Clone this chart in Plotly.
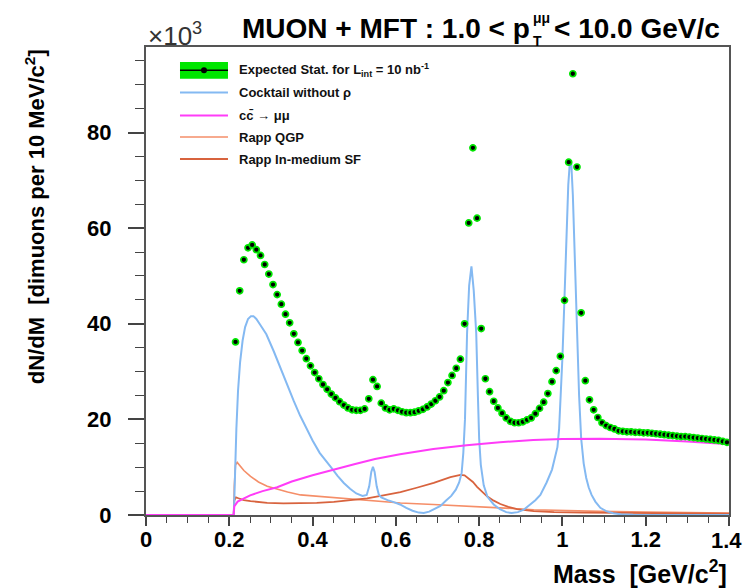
import plotly.graph_objects as go

# ---------------- data ----------------
mass_bins = [0.215, 0.225, 0.235, 0.245, 0.255, 0.265, 0.275, 0.285, 0.295, 0.305,
             0.315, 0.325, 0.335, 0.345, 0.355, 0.365, 0.375, 0.385, 0.395, 0.405,
             0.415, 0.425, 0.435, 0.445, 0.455, 0.465, 0.475, 0.485, 0.495, 0.505,
             0.515, 0.525, 0.535, 0.545, 0.555, 0.565, 0.575, 0.585, 0.595, 0.605,
             0.615, 0.625, 0.635, 0.645, 0.655, 0.665, 0.675, 0.685, 0.695, 0.705,
             0.715, 0.725, 0.735, 0.745, 0.755, 0.765, 0.775, 0.785, 0.795, 0.805,
             0.815, 0.825, 0.835, 0.845, 0.855, 0.865, 0.875, 0.885, 0.895, 0.905,
             0.915, 0.925, 0.935, 0.945, 0.955, 0.965, 0.975, 0.985, 0.995, 1.005,
             1.015, 1.025, 1.035, 1.045, 1.055, 1.065, 1.075, 1.085, 1.095, 1.105,
             1.115, 1.125, 1.135, 1.145, 1.155, 1.165, 1.175, 1.185, 1.195, 1.205,
             1.215, 1.225, 1.235, 1.245, 1.255, 1.265, 1.275, 1.285, 1.295, 1.305,
             1.315, 1.325, 1.335, 1.345, 1.355, 1.365, 1.375, 1.385, 1.395]
expected_counts = [36.2, 46.9, 53.4, 55.9, 56.5, 55.5, 54.3, 52.4, 50.4, 48.2,
                   46.1, 44.1, 42.0, 40.2, 37.9, 36.1, 34.4, 32.7, 31.2, 29.8,
                   28.5, 27.3, 26.3, 25.3, 24.5, 23.7, 23.0, 22.4, 22.0, 21.9,
                   21.9, 22.2, 24.3, 28.3, 26.9, 23.4, 22.4, 22.0, 22.2, 21.9,
                   21.6, 21.4, 21.4, 21.5, 21.8, 22.1, 22.6, 23.2, 23.9, 24.7,
                   26.0, 27.7, 29.2, 30.7, 32.6, 40.0, 61.1, 76.8, 62.1, 39.0,
                   28.5, 25.8, 23.8, 22.4, 21.3, 20.3, 19.6, 19.3, 19.3, 19.5,
                   19.9, 20.3, 21.2, 22.3, 23.6, 25.4, 27.9, 30.2, 33.2, 44.9,
                   73.8, 92.3, 72.8, 42.3, 28.1, 24.1, 22.0, 20.4, 19.3, 18.7,
                   18.3, 18.0, 17.6, 17.5, 17.4, 17.4, 17.3, 17.3, 17.2, 17.2,
                   17.1, 17.0, 16.9, 16.8, 16.7, 16.6, 16.5, 16.4, 16.4, 16.3,
                   16.2, 16.1, 16.0, 15.9, 15.8, 15.7, 15.6, 15.4, 15.2]

cocktail_m = [0.0, 0.2105, 0.212, 0.214, 0.217, 0.221, 0.226, 0.232, 0.238, 0.245, 0.252, 0.258,
              0.265, 0.275, 0.289, 0.307, 0.321, 0.337, 0.355, 0.37, 0.387, 0.40, 0.417, 0.432,
              0.445, 0.46, 0.475, 0.49, 0.505, 0.52, 0.53, 0.536, 0.541, 0.545, 0.549, 0.554,
              0.559, 0.565, 0.58, 0.595, 0.61, 0.625, 0.64, 0.655, 0.667, 0.68, 0.693, 0.707,
              0.72, 0.733, 0.744, 0.752, 0.758, 0.762, 0.766, 0.771, 0.776, 0.7815, 0.787,
              0.793, 0.797, 0.800, 0.804, 0.811, 0.82, 0.835, 0.85, 0.865, 0.878, 0.893, 0.907,
              0.92, 0.935, 0.947, 0.962, 0.975, 0.983, 0.988, 0.992, 0.996, 1.0, 1.004, 1.009,
              1.014, 1.018, 1.021, 1.025, 1.03, 1.035, 1.04, 1.045, 1.051, 1.057, 1.063, 1.07,
              1.079, 1.091, 1.105, 1.122, 1.14, 1.17, 1.25, 1.4]
cocktail_v = [0.0, 0.0, 3.0, 10.0, 18.0, 26.0, 32.0, 36.5, 39.3, 41.0, 41.6, 41.6,
              41.0, 39.7, 37.8, 34.2, 31.1, 27.5, 23.8, 20.8, 17.8, 15.6, 13.0, 11.2,
              9.9, 8.2, 6.7, 5.5, 4.5, 4.0, 4.2, 6.0, 9.0, 10.1, 9.0, 6.0,
              4.3, 3.7, 3.1, 2.7, 2.2, 1.5, 0.9, 0.5, 0.4, 0.7, 1.2, 1.9,
              3.0, 4.0, 5.3, 6.8, 8.8, 13.0, 20.0, 38.0, 48.0, 52.0, 47.0,
              38.0, 25.0, 16.0, 10.5, 6.2, 3.8, 2.2, 1.2, 0.6, 0.4, 0.6, 1.1,
              2.0, 3.1, 4.2, 6.8, 9.5, 12.3, 14.2, 18.0, 25.0, 33.0, 43.0, 57.0,
              69.0, 74.0, 74.0, 67.0, 53.0, 39.0, 25.0, 16.0, 10.8, 7.8, 5.8, 4.2,
              2.8, 1.5, 0.8, 0.35, 0.15, 0.05, 0.0, 0.0]

ccbar_m = [0.0, 0.2105, 0.212, 0.22, 0.25, 0.28, 0.315, 0.35, 0.40, 0.445, 0.50, 0.55,
           0.61, 0.69, 0.77, 0.85, 0.93, 1.0, 1.09, 1.2, 1.3, 1.4]
ccbar_v = [0.0, 0.0, 1.8, 2.8, 4.1, 5.0, 5.8, 7.0, 8.3, 9.4, 10.6, 11.7,
           12.7, 13.8, 14.6, 15.2, 15.7, 15.9, 15.95, 15.8, 15.4, 14.8]

qgp_m = [0.0, 0.2105, 0.212, 0.215, 0.219, 0.225, 0.235, 0.251, 0.27, 0.291, 0.315, 0.34,
         0.371, 0.41, 0.451, 0.49, 0.531, 0.57, 0.611, 0.69, 0.771, 0.85, 0.931, 1.01,
         1.091, 1.2, 1.3, 1.4]
qgp_v = [0.0, 0.0, 6.0, 10.5, 11.0, 10.4, 9.3, 8.1, 6.9, 6.0, 5.4, 4.8,
         4.2, 3.9, 3.6, 3.3, 3.05, 2.75, 2.5, 2.2, 1.9, 1.5, 1.1, 0.9,
         0.75, 0.6, 0.5, 0.4]

sf_m = [0.0, 0.2105, 0.212, 0.216, 0.222, 0.235, 0.251, 0.27, 0.291, 0.33, 0.371, 0.41,
        0.451, 0.49, 0.531, 0.57, 0.611, 0.65, 0.691, 0.731, 0.755, 0.765, 0.775, 0.785,
        0.795, 0.807, 0.819, 0.835, 0.851, 0.87, 0.891, 0.931, 0.98, 1.05, 1.2, 1.4]
sf_v = [0.0, 0.0, 3.0, 3.7, 3.5, 3.1, 2.9, 2.7, 2.55, 2.45, 2.45, 2.55,
        2.75, 3.05, 3.5, 4.1, 4.8, 5.7, 6.7, 7.9, 8.4, 8.3, 7.6, 6.9,
        5.9, 4.9, 3.9, 3.0, 2.3, 1.7, 1.25, 0.8, 0.6, 0.5, 0.4, 0.3]

x_ticks = [0, 0.2, 0.4, 0.6, 0.8, 1.0, 1.2, 1.4]
x_tick_labels = ["0", "0.2", "0.4", "0.6", "0.8", "1", "1.2", "1.4"]
x_minor_ticks = [0.05, 0.1, 0.15, 0.25, 0.3, 0.35, 0.45, 0.5, 0.55, 0.65, 0.7, 0.75,
                 0.85, 0.9, 0.95, 1.05, 1.1, 1.15, 1.25, 1.3, 1.35]
y_ticks = [0, 20, 40, 60, 80]
y_tick_labels = ["0", "20", "40", "60", "80"]
y_minor_ticks = [5, 10, 15, 25, 30, 35, 45, 50, 55, 65, 70, 75, 85, 90, 95]

legend_labels = ["Expected Stat. for L<sub>int</sub> = 10 nb<sup>-1</sup>",
                 "Cocktail without ρ",
                 "cc\u0304 → μμ",
                 "Rapp QGP",
                 "Rapp In-medium SF"]

# ---------------- style ----------------
C_BLUE = "#84b9f2"
C_MAG = "#ff3cf8"
C_QGP = "#f58e68"
C_SF = "#d8633e"
C_GREEN = "#00e600"
FONT = "Liberation Sans"

W, H = 743, 588
L, R, T, B = 145.5, 728.6, 47.3, 515.3   # plot area in pixels
YMAX = 97.9
XLAB_Y = 541   # pixel row of x tick label centres


def px(xp):
    return (xp - L) / (R - L)


def py(yp):
    return (B - yp) / (B - T)


fig = go.Figure()
fig.add_trace(go.Scatter(x=qgp_m, y=qgp_v, mode="lines",
                         line=dict(color=C_QGP, width=1.6), showlegend=False))
fig.add_trace(go.Scatter(x=sf_m, y=sf_v, mode="lines",
                         line=dict(color=C_SF, width=1.8), showlegend=False))
fig.add_trace(go.Scatter(x=cocktail_m, y=cocktail_v, mode="lines",
                         line=dict(color=C_BLUE, width=2), showlegend=False))
fig.add_trace(go.Scatter(x=ccbar_m, y=ccbar_v, mode="lines",
                         line=dict(color=C_MAG, width=2), showlegend=False))
fig.add_trace(go.Scatter(x=mass_bins, y=expected_counts, mode="markers",
                         marker=dict(symbol="circle", size=6, color="black",
                                     line=dict(color=C_GREEN, width=1.7)),
                         showlegend=False))

bold = dict(family=FONT, size=22, color="black", weight="bold")

# the last x label sits on the canvas edge: drawn as annotation so it is not dropped
x_axis_text = x_tick_labels[:-1] + [""]

fig.update_layout(
    width=W, height=H,
    margin=dict(l=L, r=W - R, t=T, b=H - B, pad=0, autoexpand=False),
    paper_bgcolor="white", plot_bgcolor="white",
    showlegend=False,
    xaxis=dict(range=[0, 1.4], tickvals=x_ticks, ticktext=x_axis_text,
               ticks="outside", ticklen=9, tickwidth=1.5, tickcolor="#444",
               showgrid=False, zeroline=False, showline=True, linecolor="#555",
               linewidth=2, mirror=True, tickfont=bold, ticklabelstandoff=0,
               automargin=False,
               minor=dict(tickvals=x_minor_ticks, ticks="outside", ticklen=6,
                          tickwidth=1.3, tickcolor="#444", showgrid=False)),
    yaxis=dict(range=[0, YMAX], tickvals=y_ticks, ticktext=y_tick_labels,
               ticks="outside", ticklen=16, tickwidth=1.5, tickcolor="#444",
               showgrid=False, zeroline=False, showline=True, linecolor="#555",
               linewidth=2, mirror=True, tickfont=bold, ticklabelstandoff=12,
               automargin=False,
               minor=dict(tickvals=y_minor_ticks, ticks="outside", ticklen=9,
                          tickwidth=1.3, tickcolor="#444", showgrid=False)),
)
# pull the x tick labels a little closer to the axis, as in the reference
xlab_center = 546
try:
    fig.update_xaxes(ticklabelstandoff=-5)
    xlab_center = 541
except Exception:
    pass

ann = []
ann.append(dict(text=x_tick_labels[-1], xref="x", yref="paper",
                x=x_ticks[-1], y=py(xlab_center), xanchor="center", yanchor="middle",
                xshift=-3, showarrow=False, font=bold))
# axis titles
ann.append(dict(text="Mass  [GeV/c<sup>2</sup>]", xref="paper", yref="paper",
                x=px(729), y=py(572), xanchor="right", yanchor="middle",
                showarrow=False, font=dict(family=FONT, size=25, color="black", weight="bold")))
ann.append(dict(text="dN/dM  [dimuons per 10 MeV/c<sup>2</sup>]", xref="paper", yref="paper",
                x=px(34), y=py(217), xanchor="center", yanchor="middle", textangle=-90,
                showarrow=False, font=dict(family=FONT, size=22, color="black", weight="bold")))
# exponent
ann.append(dict(text="×10<sup>3</sup>", xref="paper", yref="paper",
                x=px(145), y=py(35), xanchor="left", yanchor="middle",
                showarrow=False, font=dict(family=FONT, size=26, color="#333")))
# title pieces
tfont = dict(family=FONT, size=28, color="black", weight="bold")
sfont = dict(family=FONT, size=14, color="black", weight="bold")
ann.append(dict(text="MUON + MFT : 1.0 < p", xref="paper", yref="paper",
                x=px(532), y=py(29), xanchor="right", yanchor="middle",
                showarrow=False, font=tfont))
ann.append(dict(text="μμ", xref="paper", yref="paper",
                x=px(531), y=py(18), xanchor="left", yanchor="middle",
                showarrow=False, font=sfont))
ann.append(dict(text="T", xref="paper", yref="paper",
                x=px(531), y=py(41), xanchor="left", yanchor="middle",
                showarrow=False, font=sfont))
ann.append(dict(text="< 10.0 GeV/c", xref="paper", yref="paper",
                x=px(552), y=py(29), xanchor="left", yanchor="middle",
                showarrow=False, font=tfont))

# manual legend
leg_y = [70.6, 92.7, 115.7, 137.3, 159.3]
leg_colors = [None, C_BLUE, C_MAG, C_QGP, C_SF]
leg_widths = [None, 2, 2, 1.6, 1.8]
shapes = []
shapes.append(dict(type="rect", xref="paper", yref="paper",
                   x0=px(179.5), x1=px(227.5), y0=py(79), y1=py(62.3),
                   fillcolor=C_GREEN, line=dict(width=0)))
shapes.append(dict(type="line", xref="paper", yref="paper",
                   x0=px(179.5), x1=px(227.5), y0=py(leg_y[0]), y1=py(leg_y[0]),
                   line=dict(color="black", width=1.5)))
shapes.append(dict(type="circle", xref="paper", yref="paper",
                   x0=px(200.5), x1=px(206.5), y0=py(73.6), y1=py(67.6),
                   fillcolor="black", line=dict(width=0)))
for i in range(1, 5):
    shapes.append(dict(type="line", xref="paper", yref="paper",
                       x0=px(179.5), x1=px(227.5), y0=py(leg_y[i]), y1=py(leg_y[i]),
                       line=dict(color=leg_colors[i], width=leg_widths[i])))
lfont = dict(family=FONT, size=13, color="#111", weight="bold")
for i, lab in enumerate(legend_labels):
    ann.append(dict(text=lab, xref="paper", yref="paper",
                    x=px(237), y=py(leg_y[i]), xanchor="left", yanchor="middle",
                    showarrow=False, font=lfont))

fig.update_layout(annotations=ann, shapes=shapes)

fig.write_html("out.html", config={"displayModeBar": False},
               post_script="document.body.style.margin='0';document.body.style.overflow='hidden';")
